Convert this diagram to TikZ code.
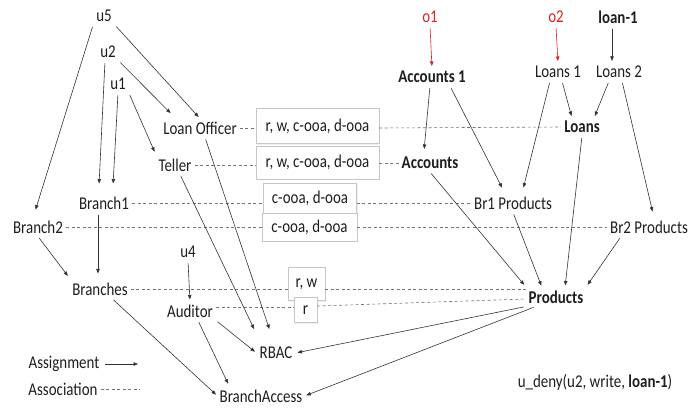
\documentclass[tikz,border=0pt]{standalone}
\usepackage{fontspec}
\setmainfont{Carlito}[FakeStretch=0.83]
\usetikzlibrary{arrows.meta,shadows}
\definecolor{ink}{HTML}{1E1E1E}
\definecolor{lnk}{HTML}{333333}
\definecolor{redi}{HTML}{E02020}
\begin{document}
\begin{tikzpicture}[x=1pt,y=-1pt,
  lbl/.style={inner sep=3pt, text=ink, font=\fontsize{18}{20}\selectfont},
  bl/.style={inner sep=3pt, text=ink, font=\fontsize{18}{20}\selectfont\bfseries},
  rd/.style={inner sep=3pt, text=redi, font=\fontsize{18}{20}\selectfont},
  assign/.style={draw=lnk, line width=0.6pt, -{Triangle[length=4.5pt,width=3.5pt]}, shorten >=2pt, shorten <=2pt},
  redassign/.style={assign, draw=redi},
  assoc/.style={draw=gray!90!black, line width=0.6pt, dash pattern=on 3pt off 2.5pt},
  perm/.style={draw=gray!45, fill=white, inner sep=0pt, text=ink, font=\fontsize{18}{20}\selectfont,
    drop shadow={opacity=0.12, shadow xshift=1pt, shadow yshift=-1pt}}
]
\useasboundingbox (0,0) rectangle (700,408);
\fill[white] (0,0) rectangle (700,408);

% left side nodes
\node[lbl] (u5) at (104,16) {u5};
\node[lbl] (u2) at (108,52) {u2};
\node[lbl] (u1) at (118,84) {u1};
\node[lbl] (lo) at (200,128) {Loan Officer};
\node[lbl] (tel) at (175,165) {Teller};
\node[lbl] (br1) at (104,203) {Branch1};
\node[lbl] (br2) at (38,227) {Branch2};
\node[lbl] (brs) at (100,289) {Branches};
\node[lbl] (u4) at (188,252) {u4};
\node[lbl] (aud) at (190,311) {Auditor};
\node[lbl] (rbac) at (276,353) {RBAC};
\node[lbl, inner sep=2pt] (ba) at (261,396) {BranchAccess};

% right side nodes
\node[rd] (o1) at (430,17) {o1};
\node[bl] (acc1) at (432,77) {Accounts 1};
\node[rd] (o2) at (556,17) {o2};
\node[lbl] (ln1) at (558,72) {Loans 1};
\node[bl] (loan1) at (618,17) {loan-1};
\node[lbl] (ln2) at (619,72) {Loans 2};
\node[bl] (loans) at (582,127) {Loans};
\node[bl] (acc) at (430,163) {Accounts};
\node[lbl] (br1p) at (513,203) {Br1 Products};
\node[lbl] (br2p) at (649,227) {Br2 Products};
\node[bl] (prod) at (556,297) {Products};

% legend and constraint
\node[lbl] (asg) at (64,364) {Assignment};
\node[lbl] (asc) at (63,389) {Association};
\coordinate (asgend) at (140,364);
\coordinate (ascend) at (140,389);
\node[lbl] (udeny) at (595,382) {u\_deny(u2, write, \textbf{loan-1})};

% permission boxes
\node[perm, minimum width=123pt, minimum height=35pt] (b1) at (317.5,126) {r, w, c-ooa, d-ooa};
\node[perm, minimum width=123pt, minimum height=33pt] (b2) at (317.5,162.5) {r, w, c-ooa, d-ooa};
\node[perm, minimum width=93pt, minimum height=30pt] (b3) at (310,198) {c-ooa, d-ooa};
\node[perm, minimum width=95pt, minimum height=28pt] (b4) at (309.5,227) {c-ooa, d-ooa};
\node[perm, minimum width=37pt, minimum height=33pt] (b5) at (306.5,284) {r, w};
\node[perm, minimum width=23pt, minimum height=25pt] (b6) at (305.5,310) {r};

% associations
\draw[assoc] (lo.east) -- (lo.east -| b1.west);
\draw[assoc] (b1.east |- lo.east) -- (loans.west);
\draw[assoc] (tel.east) -- (tel.east -| b2.west);
\draw[assoc] (b2.east |- acc.west) -- (acc.west);
\draw[assoc] (br1.east) -- (br1.east -| b3.west);
\draw[assoc] (b3.east |- br1p.west) -- (br1p.west);
\draw[assoc] (br2.east) -- (br2.east -| b4.west);
\draw[assoc] (b4.east |- br2p.west) -- (br2p.west);
\draw[assoc] (brs.east) -- (brs.east -| b5.west);
\draw[assoc] (b5.east |- brs.east) -- ([yshift=8pt]prod.west);
\draw[assoc] ([yshift=4pt]aud.east) -- ([yshift=4pt]aud.east -| b6.west);
\draw[assoc] ([yshift=4pt]b6.east) -- ([yshift=-2pt]prod.west);
\draw[assoc] (asc.east) -- (ascend);

% assignments left
\draw[assign] (u5.south east) -- (lo.north);
\draw[assign] (u5.south west) -- ([xshift=-3pt,yshift=6pt]br2.north);
\draw[assign] (u2.south east) -- ([xshift=-28pt,yshift=4pt]lo.north);
\draw[assign] ([xshift=-3pt]u2.south) -- ([xshift=-5pt,yshift=8pt]br1.north);
\draw[assign] (u1.south) -- ([xshift=9pt,yshift=8pt]br1.north);
\draw[assign] (u1.south east) -- ([yshift=2pt]tel.north west);
\draw[assign] ([xshift=5pt]lo.south) -- ([xshift=-6pt,yshift=13pt]rbac.north);
\draw[assign] ([xshift=5pt]tel.south) -- ([xshift=-21pt,yshift=13pt]rbac.north);
\draw[assign] ([xshift=-6pt]br1.south) -- ([xshift=-2pt,yshift=4pt]brs.north);
\draw[assign] (br2.south) -- ([yshift=2pt]brs.north west);
\draw[assign] (u4.south) -- (aud.north);
\draw[assign] ([xshift=12pt]brs.south) -- (ba.west);
\draw[assign] (aud.south east) -- (rbac.west);
\draw[assign] ([xshift=8pt]aud.south) -- ([xshift=-32pt,yshift=2pt]ba.north);
\draw[assign] (prod.south west) -- (rbac.east);
\draw[assign] ([xshift=10pt]prod.south west) -- (ba.east);
\draw[assign] (asg.east) -- (asgend);

% assignments right
\draw[redassign] (o1.south) -- (acc1.north);
\draw[redassign] (o2.south) -- (ln1.north);
\draw[assign] ([xshift=-6pt]loan1.south) -- ([xshift=-7pt]ln2.north);
\draw[assign] ([xshift=-2pt]acc1.south) -- ([xshift=-6pt,yshift=3pt]acc.north);
\draw[assign] ([xshift=18pt]acc1.south) -- ([xshift=-10pt,yshift=4pt]br1p.north);
\draw[assign] ([xshift=-8pt]ln1.south) -- ([xshift=10pt,yshift=4pt]br1p.north);
\draw[assign] ([xshift=4pt]ln1.south) -- ([xshift=-10pt]loans.north);
\draw[assign] ([xshift=-10pt]ln2.south) -- ([xshift=12pt]loans.north);
\draw[assign] ([xshift=3pt]ln2.south) -- ([xshift=4pt,yshift=4pt]br2p.north);
\draw[assign] (loans.south) -- ([xshift=9pt]prod.north);
\draw[assign] (acc.south) -- ([yshift=1pt]prod.north west);
\draw[assign] (br1p.south) -- ([xshift=-14pt]prod.north);
\draw[assign] ([xshift=-28pt]br2p.south) -- ([yshift=1pt]prod.north east);
\end{tikzpicture}
\end{document}
